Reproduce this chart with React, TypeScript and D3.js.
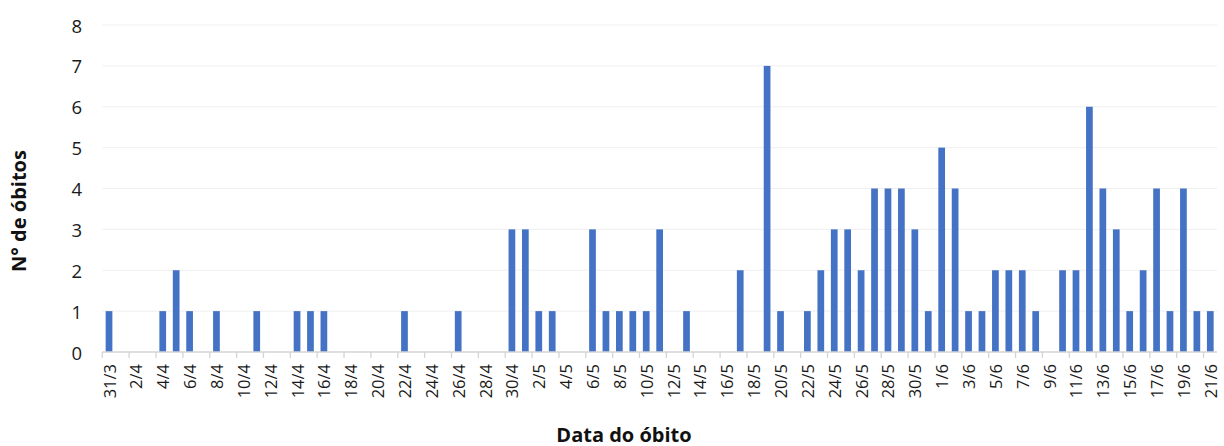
import React from "react";
import * as d3 from "d3";

const categories: string[] = [
  "31/3", "1/4", "2/4", "3/4", "4/4", "5/4", "6/4", "7/4", "8/4", "9/4", "10/4",
  "11/4", "12/4", "13/4", "14/4", "15/4", "16/4", "17/4", "18/4", "19/4", "20/4",
  "21/4", "22/4", "23/4", "24/4", "25/4", "26/4", "27/4", "28/4", "29/4", "30/4",
  "1/5", "2/5", "3/5", "4/5", "5/5", "6/5", "7/5", "8/5", "9/5", "10/5",
  "11/5", "12/5", "13/5", "14/5", "15/5", "16/5", "17/5", "18/5", "19/5", "20/5",
  "21/5", "22/5", "23/5", "24/5", "25/5", "26/5", "27/5", "28/5", "29/5", "30/5", "31/5",
  "1/6", "2/6", "3/6", "4/6", "5/6", "6/6", "7/6", "8/6", "9/6", "10/6",
  "11/6", "12/6", "13/6", "14/6", "15/6", "16/6", "17/6", "18/6", "19/6", "20/6", "21/6",
];

const deaths: number[] = [
  1, 0, 0, 0, 1, 2, 1, 0, 1, 0, 0,
  1, 0, 0, 1, 1, 1, 0, 0, 0, 0,
  0, 1, 0, 0, 0, 1, 0, 0, 0, 3,
  3, 1, 1, 0, 0, 3, 1, 1, 1, 1,
  3, 0, 1, 0, 0, 0, 2, 0, 7, 1,
  0, 1, 2, 3, 3, 2, 4, 4, 4, 3, 1,
  5, 4, 1, 1, 2, 2, 2, 1, 0, 2,
  2, 6, 4, 3, 1, 2, 4, 1, 4, 1, 1,
];

const yTicks: number[] = [0, 1, 2, 3, 4, 5, 6, 7, 8];
const yTitle = "N° de óbitos";
const xTitle = "Data do óbito";

const W = 1224;
const H = 446;
const margin = { left: 102.3, right: 7, top: 25, bottom: 94 };

export default function App() {
  const x = d3
    .scaleBand<string>()
    .domain(categories)
    .range([margin.left, W - margin.right])
    .paddingInner(0.5)
    .paddingOuter(0.25);
  const step = x.step();
  const y = d3
    .scaleLinear()
    .domain([0, 8])
    .range([H - margin.bottom, margin.top]);
  const font = "'Open Sans', sans-serif";
  const tickIdx = categories.map((_, i) => i).filter((i) => i % 2 === 0);
  const x0 = margin.left;
  const x1 = W - margin.right;

  return (
    <svg
      width={W}
      height={H}
      style={{ position: "absolute", left: 0, top: 0, display: "block" }}
      fontFamily={font}
    >
      <rect width={W} height={H} fill="#ffffff" />
      {yTicks.slice(1).map((t) => (
        <line key={t} x1={x0} x2={x1} y1={y(t)} y2={y(t)} stroke="#efefef" strokeWidth={1} />
      ))}
      {yTicks.map((t) => (
        <text
          key={"yl" + t}
          x={82}
          y={y(t)}
          textAnchor="end"
          dominantBaseline="central"
          fontSize={18.5}
          fill="#1a1a1a"
        >
          {t}
        </text>
      ))}
      {categories.map((c, i) =>
        deaths[i] > 0 ? (
          <rect
            key={c}
            x={x(c)!}
            y={y(deaths[i])}
            width={x.bandwidth()}
            height={y(0) - y(deaths[i])}
            fill="#4472C4"
          />
        ) : null
      )}
      <line x1={x0} x2={x1} y1={y(0)} y2={y(0)} stroke="#d4d4d4" strokeWidth={1.3} />
      {tickIdx.map((i) => {
        const bx = x0 + i * step;
        return (
          <line key={"tk" + i} x1={bx} x2={bx} y1={y(0)} y2={y(0) + 6} stroke="#d4d4d4" strokeWidth={1.3} />
        );
      })}
      {tickIdx.map((i) => {
        const cx = x(categories[i])! + x.bandwidth() / 2;
        return (
          <text
            key={"xl" + i}
            transform={`translate(${cx},${364}) rotate(-90)`}
            textAnchor="end"
            dominantBaseline="central"
            fontSize={16.5}
            fill="#1a1a1a"
          >
            {categories[i]}
          </text>
        );
      })}
      <text
        transform={`translate(18,${211}) rotate(-90)`}
        textAnchor="middle"
        dominantBaseline="central"
        fontSize={20}
        fontWeight={700}
        fill="#111"
      >
        {yTitle}
      </text>
      <text x={624} y={434} textAnchor="middle" dominantBaseline="central" fontSize={20} fontWeight={700} fill="#111">
        {xTitle}
      </text>
    </svg>
  );
}
